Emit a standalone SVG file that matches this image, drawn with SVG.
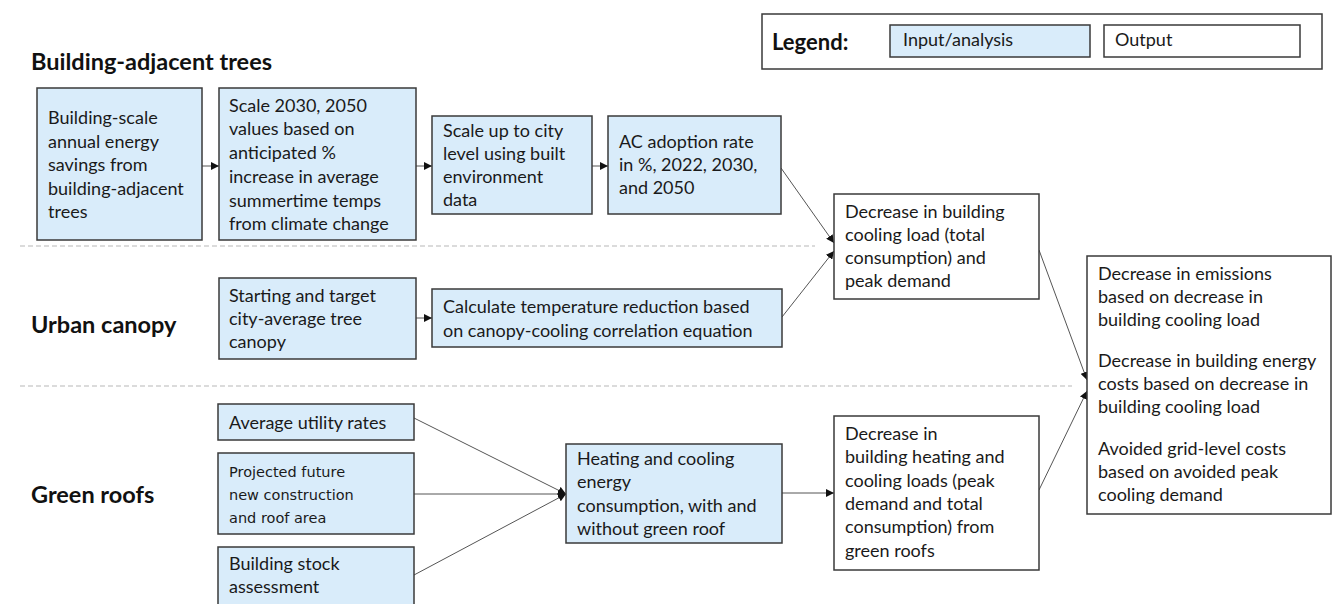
<svg xmlns="http://www.w3.org/2000/svg" width="1334" height="604" viewBox="0 0 1334 604">
<style>
.in{fill:#d9ecfa;stroke:#3a3a3a;stroke-width:1.5}
.out{fill:#ffffff;stroke:#3a3a3a;stroke-width:1.5}
.t{font-family:Lato,"Liberation Sans",sans-serif;font-size:18px;fill:#1a1a1a}
.g{font-family:"DejaVu Sans","Liberation Sans",sans-serif;font-size:14.5px;fill:#1a1a1a}
.h{font-family:Lato,"Liberation Sans",sans-serif;font-size:23.5px;font-weight:bold;fill:#111}
.c{stroke:#555;stroke-width:1;fill:none}
.d{stroke:#d0d0d0;stroke-width:1.5;stroke-dasharray:5 3;fill:none}
</style>
<defs>
<marker id="ah" markerUnits="userSpaceOnUse" markerWidth="8" markerHeight="8" refX="8" refY="4" orient="auto">
<path d="M0,0 L8,4 L0,8 z" fill="#111"/>
</marker>
</defs>
<rect width="1334" height="604" fill="#ffffff"/>

<g id="separators">
<line class="d" x1="20" y1="246" x2="815" y2="246"/>
<line class="d" x1="20" y1="386" x2="1072" y2="386"/>
</g>

<g id="headers">
<text class="h" x="31" y="70">Building-adjacent trees</text>
<text class="h" x="31" y="333">Urban canopy</text>
<text class="h" x="31" y="503">Green roofs</text>
</g>

<g id="legend">
<rect x="762" y="14" width="560" height="55" fill="#fff" stroke="#3a3a3a" stroke-width="1.5"/>
<text class="h" x="772" y="50" style="font-size:22px">Legend:</text>
<rect class="in" x="890" y="25" width="200" height="32"/>
<text class="t" x="903" y="46">Input/analysis</text>
<rect class="out" x="1104" y="25" width="196" height="32"/>
<text class="t" x="1115" y="46">Output</text>
</g>

<g id="connectors">
<line class="c" x1="202" y1="166" x2="219" y2="166" marker-end="url(#ah)"/>
<line class="c" x1="416" y1="166" x2="432" y2="166" marker-end="url(#ah)"/>
<line class="c" x1="592" y1="166" x2="608" y2="166" marker-end="url(#ah)"/>
<line class="c" x1="781" y1="168" x2="834" y2="243" marker-end="url(#ah)"/>
<line class="c" x1="416" y1="318" x2="432" y2="318" marker-end="url(#ah)"/>
<line class="c" x1="782" y1="317" x2="834" y2="251" marker-end="url(#ah)"/>
<line class="c" x1="1039" y1="250" x2="1087" y2="380" marker-end="url(#ah)"/>
<line class="c" x1="1039" y1="490" x2="1087" y2="391" marker-end="url(#ah)"/>
<line class="c" x1="414" y1="418" x2="566" y2="494" marker-end="url(#ah)"/>
<line class="c" x1="414" y1="494" x2="566" y2="494" marker-end="url(#ah)"/>
<line class="c" x1="414" y1="575" x2="566" y2="494" marker-end="url(#ah)"/>
<line class="c" x1="782" y1="493" x2="834" y2="493" marker-end="url(#ah)"/>
</g>

<g id="n-building-scale">
<rect class="in" x="37" y="88" width="165" height="152"/>
<text class="t"><tspan x="48" y="124">Building-scale</tspan><tspan x="48" y="148">annual energy</tspan><tspan x="48" y="171">savings from</tspan><tspan x="48" y="195">building-adjacent</tspan><tspan x="48" y="218">trees</tspan></text>
</g>
<g id="n-scale-2030">
<rect class="in" x="219" y="88" width="197" height="152"/>
<text class="t"><tspan x="229" y="112">Scale 2030, 2050</tspan><tspan x="229" y="135">values based on</tspan><tspan x="229" y="159">anticipated %</tspan><tspan x="229" y="183">increase in average</tspan><tspan x="229" y="207">summertime temps</tspan><tspan x="229" y="230">from climate change</tspan></text>
</g>
<g id="n-scale-city">
<rect class="in" x="432" y="116" width="160" height="98"/>
<text class="t"><tspan x="443" y="137">Scale up to city</tspan><tspan x="443" y="160">level using built</tspan><tspan x="443" y="183">environment</tspan><tspan x="443" y="206">data</tspan></text>
</g>
<g id="n-ac">
<rect class="in" x="608" y="116" width="173" height="98"/>
<text class="t"><tspan x="619" y="148">AC adoption rate</tspan><tspan x="619" y="171">in %, 2022, 2030,</tspan><tspan x="619" y="194">and 2050</tspan></text>
</g>
<g id="n-cooling-decrease">
<rect class="out" x="834" y="194" width="205" height="105"/>
<text class="t"><tspan x="845" y="218">Decrease in building</tspan><tspan x="845" y="241">cooling load (total</tspan><tspan x="845" y="264">consumption) and</tspan><tspan x="845" y="287">peak demand</tspan></text>
</g>
<g id="n-canopy">
<rect class="in" x="219" y="278" width="197" height="81"/>
<text class="t"><tspan x="229" y="302">Starting and target</tspan><tspan x="229" y="325">city-average tree</tspan><tspan x="229" y="348">canopy</tspan></text>
</g>
<g id="n-temp">
<rect class="in" x="432" y="289" width="350" height="58"/>
<text class="t"><tspan x="443" y="313">Calculate temperature reduction based</tspan><tspan x="443" y="337">on canopy-cooling correlation equation</tspan></text>
</g>
<g id="n-utility">
<rect class="in" x="218" y="404" width="196" height="36"/>
<text class="t" x="229" y="429">Average utility rates</text>
</g>
<g id="n-projected">
<rect class="in" x="218" y="453" width="196" height="81"/>
<text class="g"><tspan x="229" y="477">Projected future</tspan><tspan x="229" y="500">new construction</tspan><tspan x="229" y="523">and roof area</tspan></text>
</g>
<g id="n-stock">
<rect class="in" x="218" y="547" width="196" height="62"/>
<text class="t"><tspan x="229" y="570">Building stock</tspan><tspan x="229" y="593">assessment</tspan></text>
</g>
<g id="n-heating">
<rect class="in" x="566" y="444" width="216" height="99"/>
<text class="t"><tspan x="577" y="465">Heating and cooling</tspan><tspan x="577" y="488">energy</tspan><tspan x="577" y="512">consumption, with and</tspan><tspan x="577" y="535">without green roof</tspan></text>
</g>
<g id="n-green-decrease">
<rect class="out" x="834" y="416" width="205" height="154"/>
<text class="t"><tspan x="845" y="440">Decrease in</tspan><tspan x="845" y="463">building heating and</tspan><tspan x="845" y="487">cooling loads (peak</tspan><tspan x="845" y="510">demand and total</tspan><tspan x="845" y="533">consumption) from</tspan><tspan x="845" y="557">green roofs</tspan></text>
</g>
<g id="n-outputs">
<rect class="out" x="1087" y="256" width="244" height="258"/>
<text class="t"><tspan x="1098" y="280">Decrease in emissions</tspan><tspan x="1098" y="303">based on decrease in</tspan><tspan x="1098" y="326">building cooling load</tspan><tspan x="1098" y="367">Decrease in building energy</tspan><tspan x="1098" y="390">costs based on decrease in</tspan><tspan x="1098" y="413">building cooling load</tspan><tspan x="1098" y="455">Avoided grid-level costs</tspan><tspan x="1098" y="478">based on avoided peak</tspan><tspan x="1098" y="501">cooling demand</tspan></text>
</g>
</svg>
